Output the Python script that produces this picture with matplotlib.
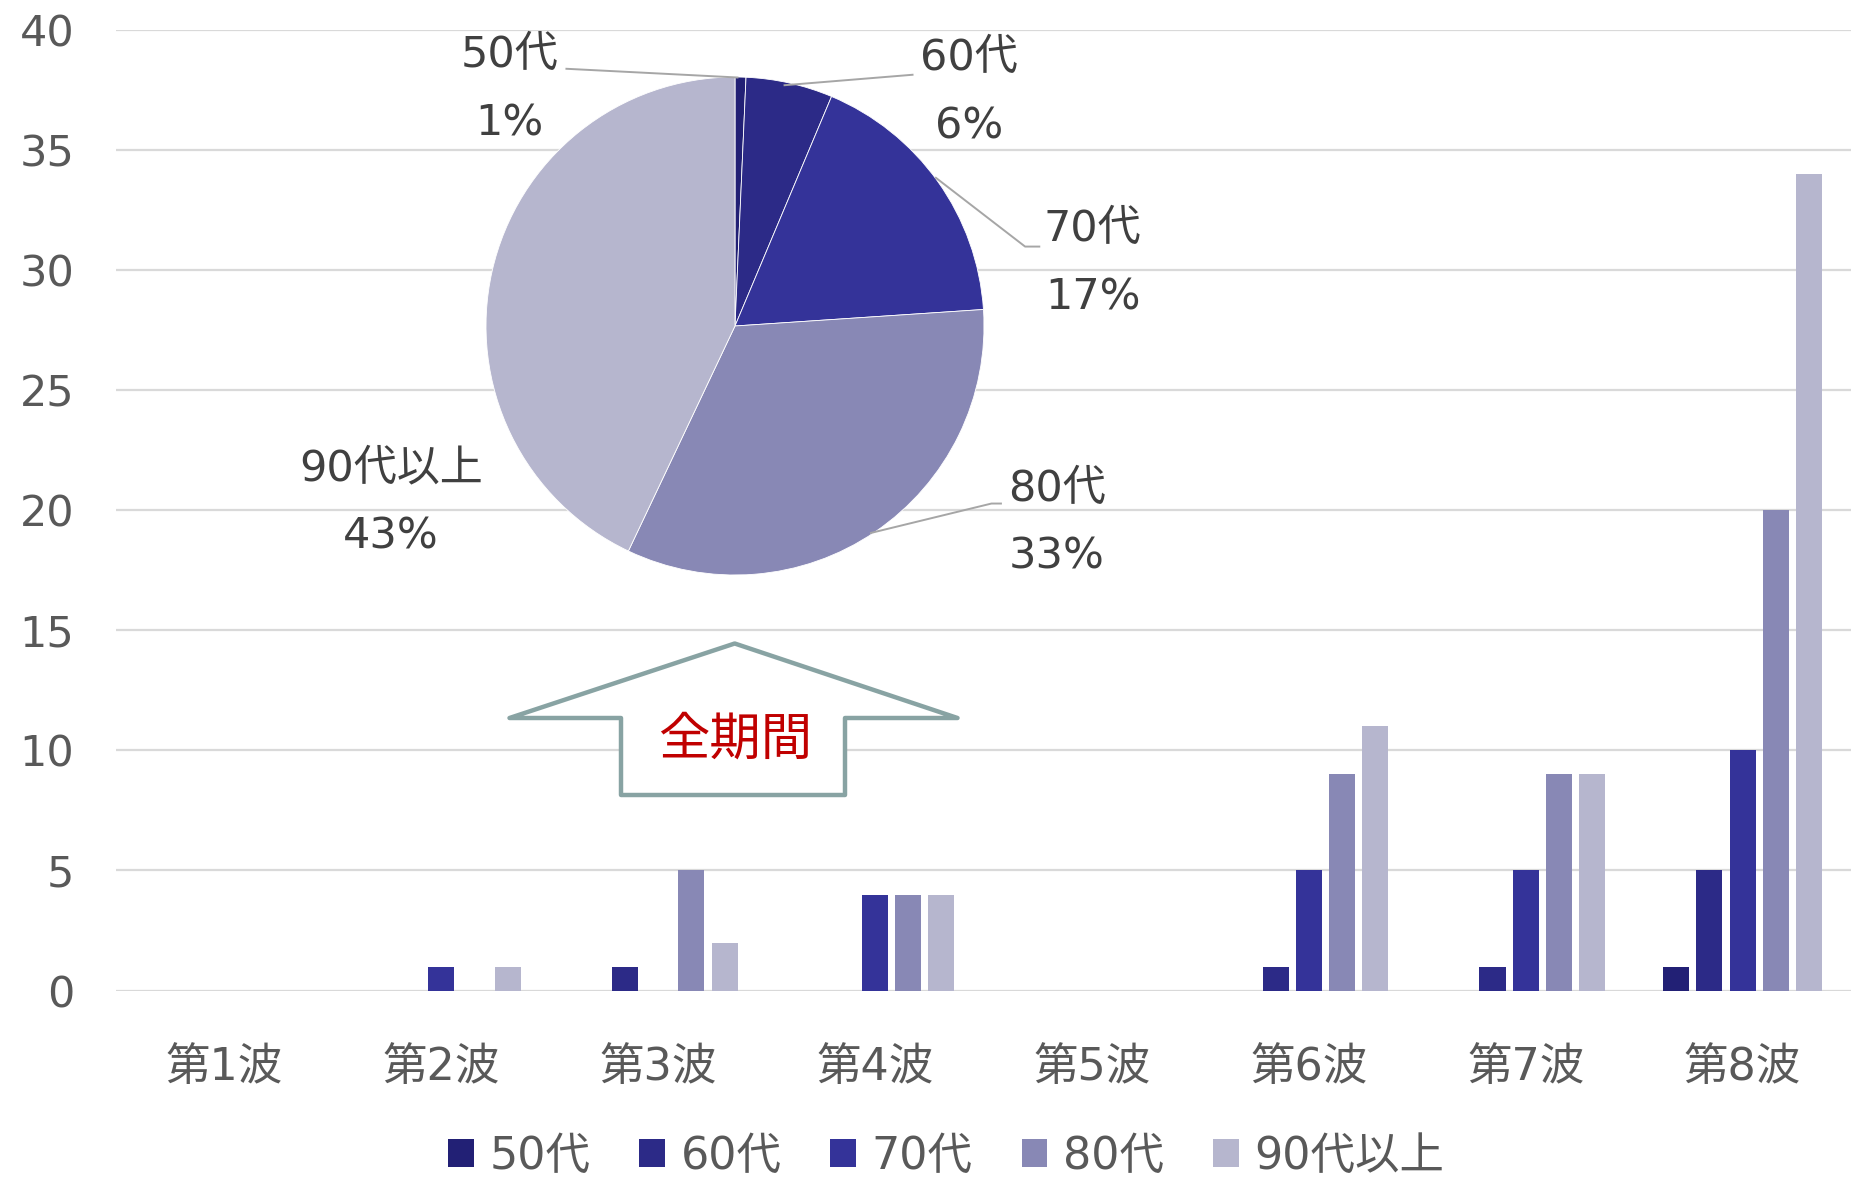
import numpy as np
import matplotlib
matplotlib.use('Agg')
import matplotlib.pyplot as plt
from matplotlib.patches import Polygon

# DejaVu first for the wide digits, Noto CJK for the kanji
plt.rcParams['font.family'] = ['DejaVu Sans', 'Noto Sans CJK JP']

#### Data ###########################################
waves = ['第1波', '第2波', '第3波', '第4波', '第5波', '第6波', '第7波', '第8波']
ages = ['50代', '60代', '70代', '80代', '90代以上']
v50 = [0, 0, 0, 0, 0, 0, 0, 1]
v60 = [0, 0, 1, 0, 0, 1, 1, 5]
v70 = [0, 1, 0, 4, 0, 5, 5, 10]
v80 = [0, 0, 5, 4, 0, 9, 9, 20]
v90 = [0, 1, 2, 4, 0, 11, 9, 34]
pie_pct_labels = ['1%', '6%', '17%', '33%', '43%']
yticks = [0, 5, 10, 15, 20, 25, 30, 35, 40]
#####################################################

colors = ['#222075', '#2c2a87', '#343399', '#8888b5', '#b6b6ce']
tick_color = '#595959'
W, H = 1858, 1178

def fx(px):
    return px / W

def fy(py):
    return 1 - py / H

fig = plt.figure(figsize=(W / 100, H / 100), dpi=100)

# Main bar chart
ax = fig.add_axes([fx(116), fy(990.6), fx(1851) - fx(116), fy(29.6) - fy(990.6)])
series = [v50, v60, v70, v80, v90]
x = np.arange(len(waves))
pitch = 0.153
width = 0.12
for i, vals in enumerate(series):
    ax.bar(x + (i - 2) * pitch, vals, width, color=colors[i], label=ages[i], zorder=3)

ax.set_xlim(-0.5, len(waves) - 0.5)
ax.set_ylim(0, 40)
ax.set_yticks(yticks)
ax.set_yticklabels([str(t) for t in yticks])
ax.set_xticks(x)
ax.set_xticklabels(waves)
ax.grid(axis='y', color='#d9d9d9', lw=1.6, zorder=0)
for s in ax.spines.values():
    s.set_visible(False)
ax.tick_params(axis='both', length=0, colors=tick_color)
ax.tick_params(axis='y', pad=30, labelsize=31)
ax.tick_params(axis='x', pad=40, labelsize=32)

leg = ax.legend(loc='center', bbox_to_anchor=(fx(946), fy(1156)),
                bbox_transform=fig.transFigure, ncol=5, frameon=False,
                fontsize=32, handlelength=0.58, handleheight=0.58,
                handletextpad=0.35, columnspacing=1.1)
for t in leg.get_texts():
    t.set_color(tick_color)

# Inset pie (whole period)
R = 249.0
cx, cy = 735.0, 326.0
left, top, right, bottom = 229, 9.5, 1238, 643
pax = fig.add_axes([fx(left), fy(bottom), fx(right) - fx(left), fy(top) - fy(bottom)])
pax.set_facecolor('white')
totals = [sum(v) for v in series]
pax.pie(totals, colors=colors, startangle=90, counterclock=False, radius=1,
        wedgeprops=dict(linewidth=0.6, edgecolor='white'))
pax.set_aspect('auto')
pax.set_xlim(-(cx - left) / R, (right - cx) / R)
pax.set_ylim(-(bottom - cy) / R, (cy - top) / R)
for s in pax.spines.values():
    s.set_visible(True)
    s.set_color('#1f2f6e')
    s.set_linewidth(1.6)

label_pos = [(-0.906, 0.952), (0.941, 0.938), (1.436, 0.253), (1.293, -0.79), (-1.381, -0.708)]
for name, pct, (lx, ly) in zip(ages, pie_pct_labels, label_pos):
    pax.text(lx, ly, name + '\n' + pct, ha='center', va='center', fontsize=31,
             color='#404040', linespacing=1.8)

leaders = [
    [(-0.677, 1.033), (0.01, 0.998)],
    [(0.713, 1.009), (0.199, 0.967)],
    [(1.222, 0.319), (1.165, 0.319), (0.807, 0.595)],
    [(1.068, -0.713), (1.03, -0.713), (0.546, -0.831)],
]
for pts in leaders:
    pts = np.array(pts)
    pax.plot(pts[:, 0], pts[:, 1], color='#a6a6a6', lw=1.4)

# Block arrow pointing to the pie
arrow_px = [(734.7, 643.5), (957.5, 718), (845, 718), (845, 795),
            (621, 795), (621, 718), (509.5, 718)]
arrow = Polygon([(fx(a), fy(b)) for a, b in arrow_px], closed=True,
                transform=fig.transFigure, facecolor='white', edgecolor='#88a3a3',
                lw=3.2, joinstyle='round', zorder=10)
fig.patches.append(arrow)
fig.text(fx(734.7), fy(740), '全期間', ha='center', va='center', fontsize=37,
         color='#c00000', family=['Noto Sans CJK JP'], zorder=11)

fig.savefig('out.png', dpi=100)
